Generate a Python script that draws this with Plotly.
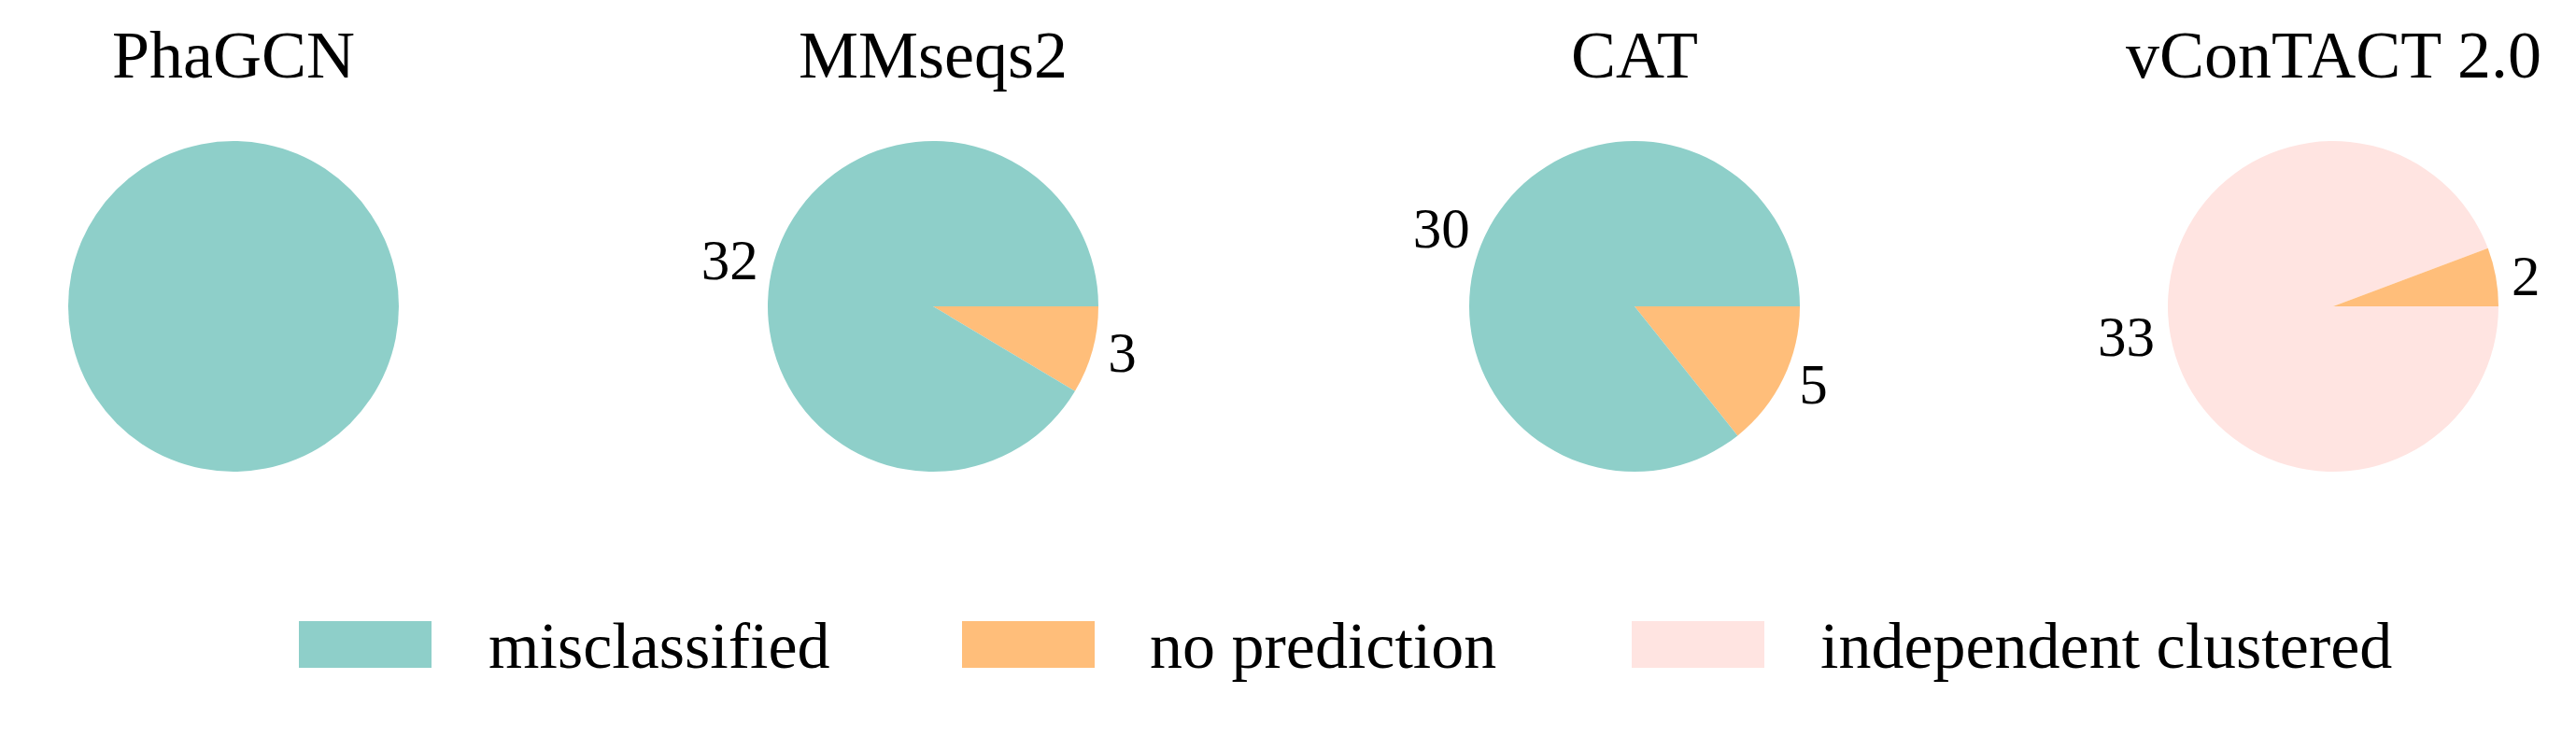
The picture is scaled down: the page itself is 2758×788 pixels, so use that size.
import plotly.graph_objects as go

tools = ["PhaGCN", "MMseqs2", "CAT", "vConTACT 2.0"]
categories = ["misclassified", "no prediction", "independent clustered"]
misclassified = [35, 32, 30, 0]
no_prediction = [0, 3, 5, 2]
independent_clustered = [0, 0, 0, 33]
colors = ["#8ECFC9", "#FFBE7A", "#FFE4E1"]

W, H = 2758, 788
FONT = "Liberation Serif, Times New Roman, serif"
centers = [250, 999, 1750, 2498]
radius = 177
cy = 328

fig = go.Figure()
for i, tool in enumerate(tools):
    vals = [misclassified[i], no_prediction[i], independent_clustered[i]]
    total = sum(vals)
    # no label on a slice that fills the whole pie, nor on empty ones
    text = [str(v) if 0 < v < total else "" for v in vals]
    cx = centers[i]
    # reversed + clockwise from 3 o'clock == counterclockwise in the original order
    fig.add_trace(
        go.Pie(
            labels=categories[::-1],
            values=vals[::-1],
            text=text[::-1],
            textinfo="text",
            textposition="outside",
            sort=False,
            direction="clockwise",
            rotation=90,
            marker=dict(colors=colors[::-1], line=dict(width=0)),
            outsidetextfont=dict(size=61, color="black", family=FONT),
            domain=dict(
                x=[(cx - radius) / W, (cx + radius) / W],
                y=[(H - cy - radius) / H, (H - cy + radius) / H],
            ),
            hoverinfo="label+value",
            name=tool,
            showlegend=False,
        )
    )
    fig.add_annotation(
        text=tool,
        x=cx / W,
        y=1 - 59 / H,
        xref="paper",
        yref="paper",
        xanchor="center",
        yanchor="middle",
        showarrow=False,
        font=dict(size=72, color="black", family=FONT),
    )

# legend drawn by hand so the swatches can be wide boxes like the original
swatch_x = [320, 1030, 1747]
swatch_w = 142
text_x = [521, 1229, 1947]
leg_top, leg_bot = 665, 715
for k, cat in enumerate(categories):
    fig.add_shape(
        type="rect",
        xref="paper",
        yref="paper",
        x0=swatch_x[k] / W,
        x1=(swatch_x[k] + swatch_w) / W,
        y0=1 - leg_bot / H,
        y1=1 - leg_top / H,
        fillcolor=colors[k],
        line=dict(width=0),
    )
    fig.add_annotation(
        text=cat,
        x=text_x[k] / W,
        y=1 - 691 / H,
        xref="paper",
        yref="paper",
        xanchor="left",
        yanchor="middle",
        showarrow=False,
        font=dict(size=70, color="black", family=FONT),
    )

fig.update_layout(
    width=W,
    height=H,
    margin=dict(l=0, r=0, t=0, b=0),
    paper_bgcolor="white",
    plot_bgcolor="white",
    font=dict(family=FONT, color="black"),
    showlegend=False,
)

# drop the browser's default 8px body margin so the figure fills the window
fig.write_html(
    "out.html",
    config={"displayModeBar": False},
    post_script="document.body.style.margin='0';",
)
